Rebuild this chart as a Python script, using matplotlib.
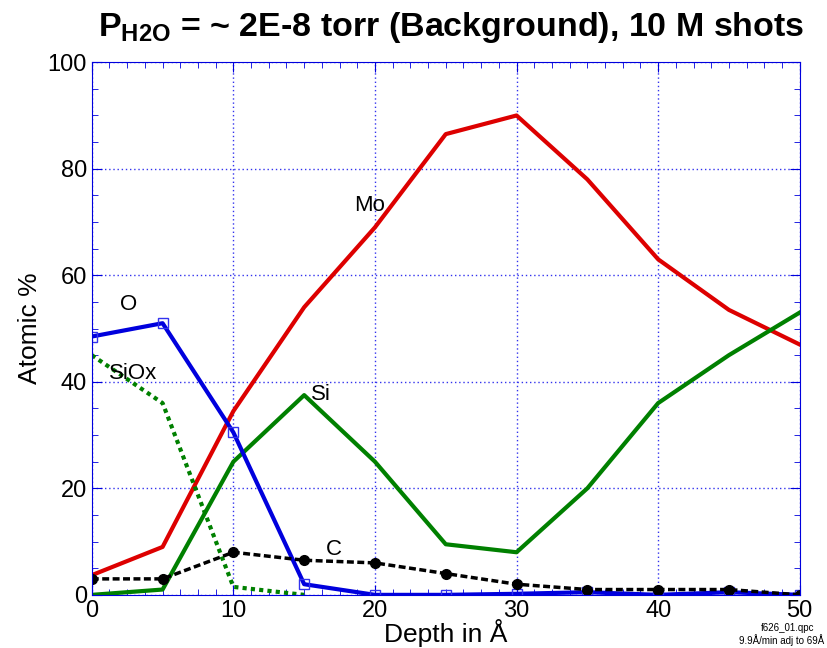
import matplotlib
matplotlib.use('Agg')
import matplotlib.pyplot as plt
from matplotlib.ticker import MultipleLocator

plt.rcParams['font.family'] = ['Liberation Sans', 'DejaVu Sans']
plt.rcParams['mathtext.fontset'] = 'custom'
plt.rcParams['mathtext.rm'] = 'Liberation Sans'
plt.rcParams['mathtext.bf'] = 'Liberation Sans:bold'

# depth profile data (atomic %)
depth = [0, 5, 10, 15, 20, 25, 30, 35, 40, 45, 50]
mo = [3.7, 9, 34.5, 54, 69, 86.5, 90, 78, 63, 53.5, 47]
si = [0, 1, 25, 37.5, 25, 9.5, 8, 20, 36, 45, 53]
o = [48.5, 51, 30.5, 2, 0, 0, 0.2, 0.5, 0, 0.5, 0]
c = [3, 3, 8, 6.5, 6, 4, 2, 1, 1, 1, 0]
siox_depth = [0, 5, 10, 15]
siox = [45, 36, 1.5, 0]

fig = plt.figure(figsize=(8.27, 6.48), dpi=100)
ax = fig.add_axes([0.111, 0.082, 0.856, 0.822])

ax.plot(depth, mo, color='#dd0000', lw=3)
ax.plot(depth, si, color='#008000', lw=3)
ax.plot(siox_depth, siox, color='#008000', lw=3, linestyle=(0, (1, 1)))
ax.plot(depth, o, color='#0000dd', lw=3, marker='s', ms=7, mfc='none', mec='#3333ee', mew=1)
ax.plot(depth, c, color='black', lw=2.5, linestyle=(0, (2, 1)), marker='o', ms=7)

ax.set_xlim(0, 50)
ax.set_ylim(0, 100)
ax.xaxis.set_major_locator(MultipleLocator(10))
ax.xaxis.set_minor_locator(MultipleLocator(1.25))
ax.yaxis.set_major_locator(MultipleLocator(20))
ax.yaxis.set_minor_locator(MultipleLocator(5))
ax.tick_params(which='both', direction='in', top=True, right=True, color='#0000dd',
               labelsize=17)
ax.tick_params(which='major', length=7)
ax.tick_params(which='minor', length=4)
for s in ax.spines.values():
    s.set_color('#0000dd')
ax.grid(True, which='major', color='#3333ee', linestyle=(0, (1, 2)), lw=1)

ax.set_xlabel('Depth in Å', fontsize=19, labelpad=-2)
ax.set_ylabel('Atomic %', fontsize=19)
fig.suptitle(r'$\mathbf{P_{H2O}}$ = ~ 2E-8 torr (Background), 10 M shots',
             fontsize=24.5, fontweight='bold', x=0.545, y=0.985)

ax.text(18.5, 72, 'Mo', fontsize=16)
ax.text(2.0, 53.5, 'O', fontsize=16)
ax.text(1.2, 40.5, 'SiOx', fontsize=16)
ax.text(15.5, 36.5, 'Si', fontsize=16)
ax.text(16.5, 7.5, 'C', fontsize=16)

fig.text(0.952, 0.027, 'f626_01.qpc', fontsize=7, ha='center')
fig.text(0.997, 0.006, '9.9Å/min adj to 69Å', fontsize=7, ha='right')

fig.savefig('out.png', dpi=100)
